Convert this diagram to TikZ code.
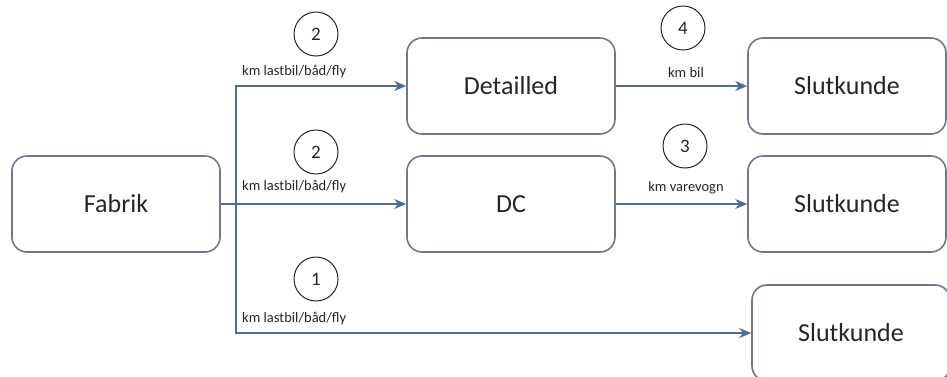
\documentclass[tikz,border=0pt]{standalone}
\usepackage{fontspec}
\setmainfont{Carlito}
\usepackage{tikz}
\usetikzlibrary{arrows.meta,positioning,calc}

\definecolor{flowblue}{HTML}{4F6B98}
\definecolor{boxgrey}{HTML}{707888}
\definecolor{txtgrey}{HTML}{262626}

\begin{document}
\begin{tikzpicture}[
x=1pt, y=-1pt, >={Stealth[length=12pt,width=10pt]},
box-node/.style = {rectangle,rounded corners=15pt,draw=boxgrey,line width=1.6pt,
  text=txtgrey,font=\fontsize{26}{30}\selectfont,minimum height=96pt},
num-node/.style = {circle,draw=txtgrey,line width=1pt,minimum size=44pt,inner sep=0pt,
  text=txtgrey,font=\fontsize{19}{22}\selectfont},
km-label/.style = {text=txtgrey,font=\fontsize{14.5}{16}\selectfont,inner sep=0pt},
flow/.style = {draw=flowblue,line width=1.8pt}
]
\useasboundingbox (0,0) rectangle (947,376);

\node [box-node, minimum width=208pt] (fab) at (116, 204) {Fabrik};
\node [box-node, minimum width=208pt] (det) at (511, 86) {Detailled};
\node [box-node, minimum width=208pt] (dc) at (511, 204) {DC};
\node [box-node, minimum width=198pt] (slut1) at (847, 86) {Slutkunde};
\node [box-node, minimum width=198pt] (slut2) at (847, 204) {Slutkunde};
\node [box-node, minimum width=198pt] (slut3) at (851, 333) {Slutkunde};
\coordinate (split) at (236, 204);

% numbers
\node [num-node] (n1) at (316, 34) {2};
\node [num-node] (n2) at (316, 152) {2};
\node [num-node] (n3) at (316, 279) {1};
\node [num-node] (n4) at (683, 28) {4};
\node [num-node] (n5) at (685, 146) {3};

% labels
\node [km-label, anchor=west] at (242, 72) {km lastbil/båd/fly};
\node [km-label, anchor=west] at (242, 187) {km lastbil/båd/fly};
\node [km-label, anchor=west] at (242, 319) {km lastbil/båd/fly};
\node [km-label] at (686, 73) {km bil};
\node [km-label] at (686, 188) {km varevogn};

% arrows
\draw[flow] (fab) -- (split);
\draw[flow,->] (split) |- (det);
\draw[flow,->] (split) -- (dc);
\draw[flow,->] (split) |- (slut3);
\draw[flow,->] (det) -- (slut1);
\draw[flow,->] (dc) -- (slut2);

\end{tikzpicture}
\end{document}
